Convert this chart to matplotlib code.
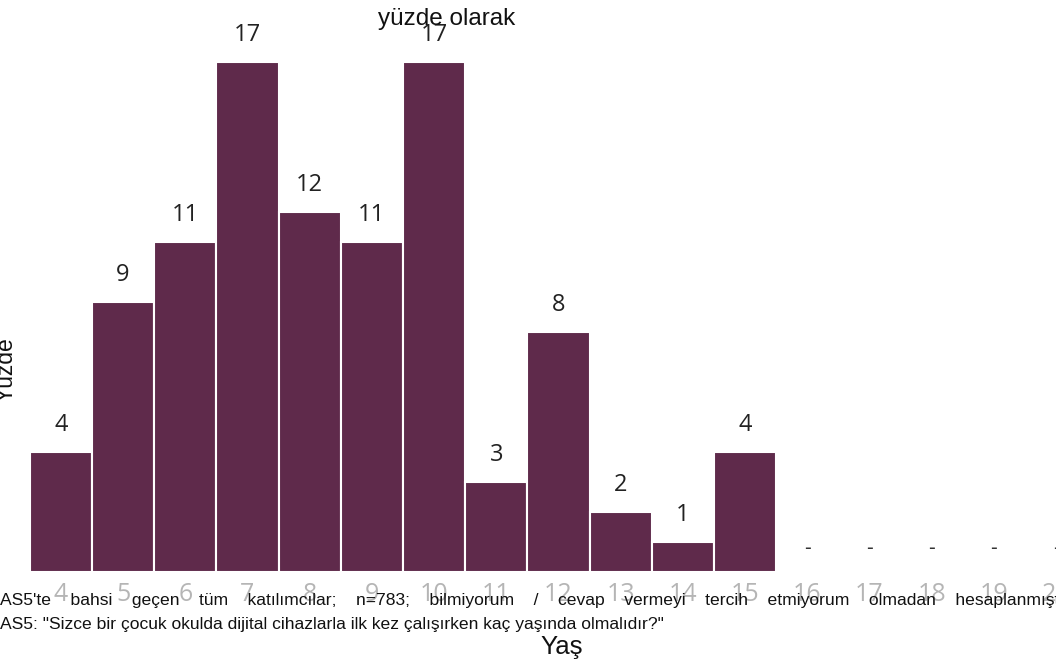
import matplotlib
matplotlib.use("Agg")
import matplotlib.pyplot as plt

# data
ages   = ["4", "5", "6", "7", "8", "9", "10", "11", "12", "13", "14", "15",
          "16", "17", "18", "19", "20"]
values = [4, 9, 11, 17, 12, 11, 17, 3, 8, 2, 1, 4,
          None, None, None, None, None]

title    = "yüzde olarak"
y_label  = "Yüzde"
x_label  = "Yaş"
note_1_words = ["AS5'te", "bahsi", "geçen", "tüm", "katılımcılar;", "n=783;",
                "bilmiyorum", "/", "cevap", "vermeyi", "tercih", "etmiyorum",
                "olmadan", "hesaplanmıştır"]
note_2   = 'AS5: "Sizce bir çocuk okulda dijital cihazlarla ilk kez çalışırken kaç yaşında olmalıdır?"'

bar_color = "#5f2a4b"

fig = plt.figure(figsize=(10.56, 6.6), dpi=100)

# pixel geometry: baseline at y=572, 30 px per unit, bar pitch 62.3 px
pitch = 62.3
x0 = 61.0
ax = fig.add_axes([0, 88 / 660, 1, 572 / 660])
ax.set_xlim(-x0 / pitch, (1056 - x0) / pitch)
ax.set_ylim(0, 572 / 30)

pos = list(range(len(ages)))
for i, v in zip(pos, values):
    if v is None:
        ax.annotate("-", (i, 0), xytext=(0, 17), textcoords="offset points",
                    ha="center", va="center", fontsize=15, color="#333333",
                    family="Open Sans")
        continue
    ax.bar(i, v, width=1.0, color=bar_color, edgecolor="white", linewidth=1.5)
    ax.annotate(str(v), (i, v), xytext=(0, 19.5), textcoords="offset points",
                ha="center", va="center", fontsize=17, color="#222222",
                family="Open Sans")

ax.set_xticks(pos)
ax.set_xticklabels(ages, family="Open Sans", fontsize=18, color="#b5b5b5")
ax.tick_params(axis="x", length=0, pad=7)
ax.set_yticks([])
for s in ax.spines.values():
    s.set_visible(False)

fig.text(447 / 1056, 1 - 19 / 660, title, ha="center", va="center",
         fontsize=17.5, family="Liberation Sans", color="#111111")
fig.text(6 / 1056, 1 - 370 / 660, y_label, ha="center", va="center",
         rotation=90, fontsize=16.5, family="Liberation Sans", color="#111111")
# first note line has wide word spacing in the reference
fig.text(0, 1 - 601 / 660, "    ".join(note_1_words), ha="left", va="center",
         fontsize=12.6, family="Liberation Sans", color="#111111")
fig.text(0, 1 - 625 / 660, note_2, ha="left", va="center",
         fontsize=12.6, family="Liberation Sans", color="#111111")
fig.text(562 / 1056, 1 - 647 / 660, x_label, ha="center", va="center",
         fontsize=18.5, family="Liberation Sans", color="#111111")

fig.savefig("out.png", dpi=100)
